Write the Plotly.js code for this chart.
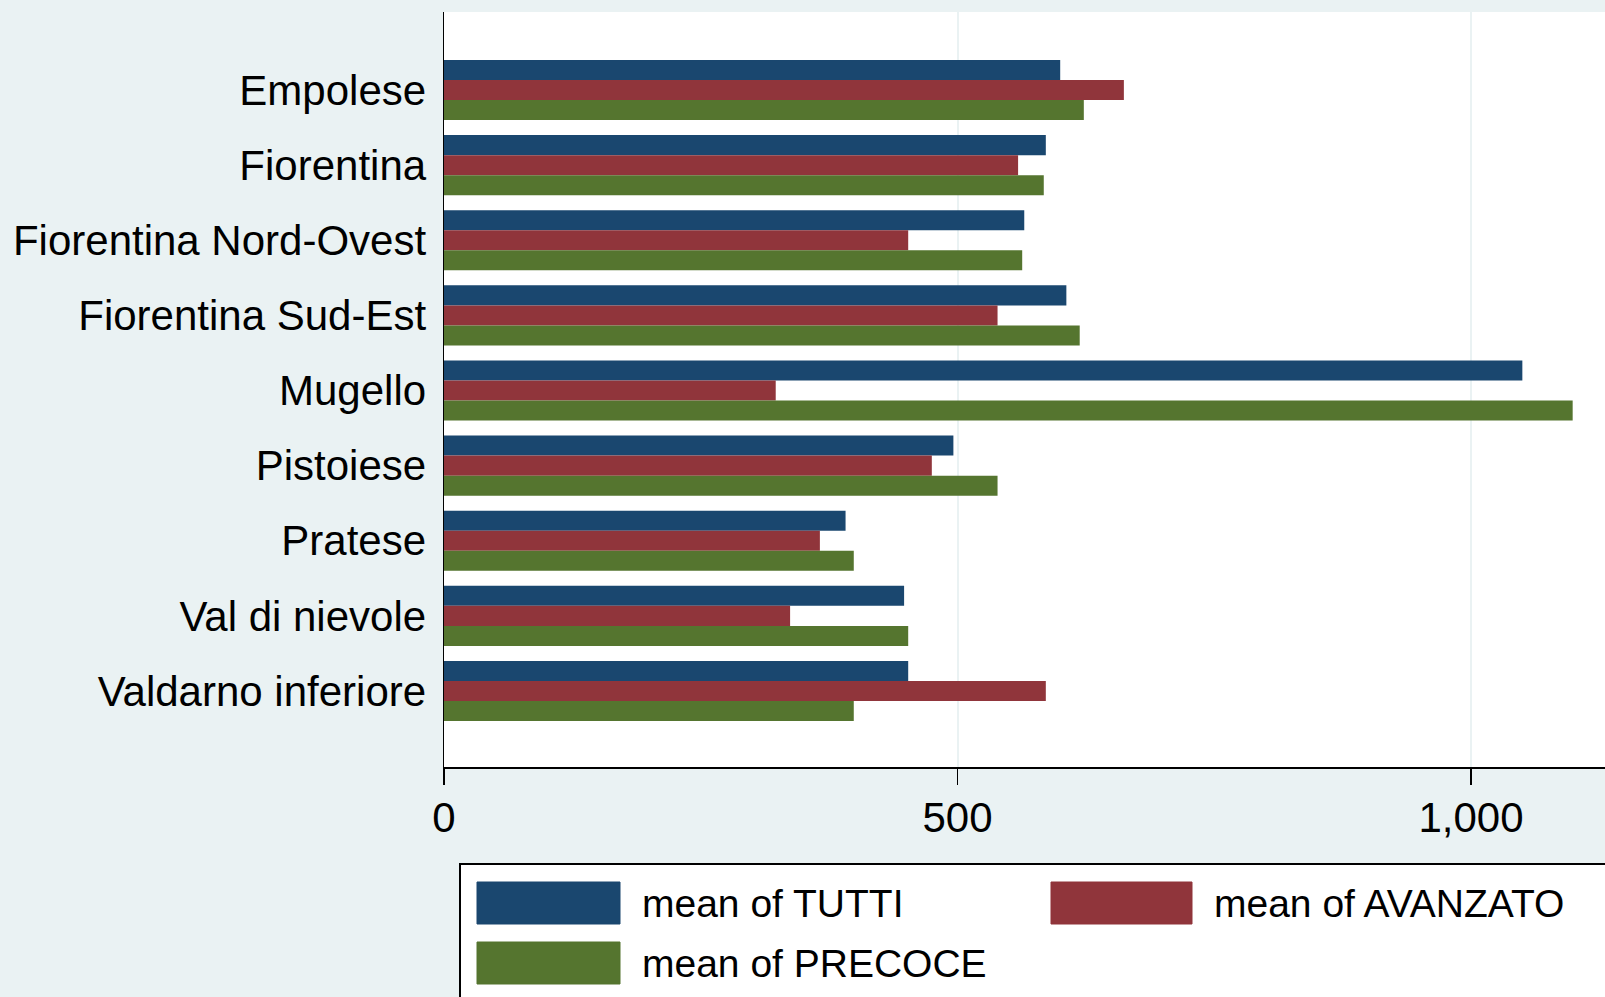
<!DOCTYPE html>
<html>
<head>
<meta charset="utf-8">
<script src="https://cdn.plot.ly/plotly-3.0.1.min.js"></script>
<style>html,body{margin:0;padding:0;background:#eaf2f3;}#chart{width:1605px;height:997px;}</style>
</head>
<body>
<div id="chart"></div>
<script>
const categories = ["Empolese","Fiorentina","Fiorentina Nord-Ovest","Fiorentina Sud-Est","Mugello","Pistoiese","Pratese","Val di nievole","Valdarno inferiore"];
const seriesNames = ["mean of TUTTI","mean of AVANZATO","mean of PRECOCE"];
const tutti    = [600, 586, 565, 606, 1050, 496, 391, 448, 452];
const avanzato = [662, 559, 452, 539, 323, 475, 366, 337, 586];
const precoce  = [623, 584, 563, 619, 1099, 539, 399, 452, 399];
const xTicks = [0, 500, 1000];
const xTickLabels = ["0", "500", "1,000"];
const colors = ["#1a476f", "#90353b", "#55752f"];

const values = [tutti, avanzato, precoce];
const traces = values.map((v, i) => ({
  type: 'bar', orientation: 'h', x: v, y: categories, name: seriesNames[i],
  marker: {color: colors[i], line: {width: 0}}, showlegend: false, hoverinfo: 'x+y'
}));

const FONT = 'Liberation Sans, Arial, sans-serif';
const L = 444, W = 1161, T = 12, B = 767, H = B - T;
const px = x => (x - L) / W;
const py = y => (B - y) / H;

const shapes = [
  {type:'rect', xref:'paper', yref:'paper', x0:px(460), x1:px(1640), y0:py(1020), y1:py(864),
   fillcolor:'#ffffff', line:{color:'#000000', width:2}, layer:'above'}
];
const annotations = [];
const legendPos = [
  {sx0:477, sx1:620, sy0:882, sy1:924, tx:640, ty:903},
  {sx0:1051, sx1:1192, sy0:882, sy1:924, tx:1212, ty:903},
  {sx0:477, sx1:620, sy0:942, sy1:984, tx:640, ty:963}
];
seriesNames.forEach((n, i) => {
  const p = legendPos[i];
  shapes.push({type:'rect', xref:'paper', yref:'paper', x0:px(p.sx0), x1:px(p.sx1), y0:py(p.sy1), y1:py(p.sy0),
    fillcolor:colors[i], line:{color:colors[i], width:1}, layer:'above'});
  annotations.push({xref:'paper', yref:'paper', x:px(p.tx), y:py(p.ty), xanchor:'left', yanchor:'middle',
    text:n, showarrow:false, font:{family:FONT, size:39, color:'#000000'}});
});

const layout = {
  width:1605, height:997,
  paper_bgcolor:'#eaf2f3', plot_bgcolor:'#ffffff',
  margin:{l:L, r:0, t:T, b:997 - B, pad:0},
  barmode:'group', bargap:0.2, bargroupgap:0,
  showlegend:false,
  xaxis:{range:[0, W / 1.027], tickvals:xTicks, ticktext:xTickLabels,
    showgrid:true, gridcolor:'#eaf2f3', gridwidth:2, zeroline:false,
    showline:true, linecolor:'#000000', linewidth:1.5,
    ticks:'outside', ticklen:16, tickwidth:1.5, tickcolor:'#000000',
    tickfont:{family:FONT, size:42, color:'#000000'}, ticklabelstandoff:-3, fixedrange:true},
  yaxis:{type:'category', range:[9.012, -1.039], autorange:false,
    showgrid:false, zeroline:false, showline:true, linecolor:'#000000', linewidth:1.5,
    ticks:'', tickfont:{family:FONT, size:42, color:'#000000'}, ticklabelstandoff:8, fixedrange:true},
  shapes:shapes, annotations:annotations
};

Plotly.newPlot('chart', traces, layout, {displayModeBar:false, staticPlot:true});
</script>
</body>
</html>
